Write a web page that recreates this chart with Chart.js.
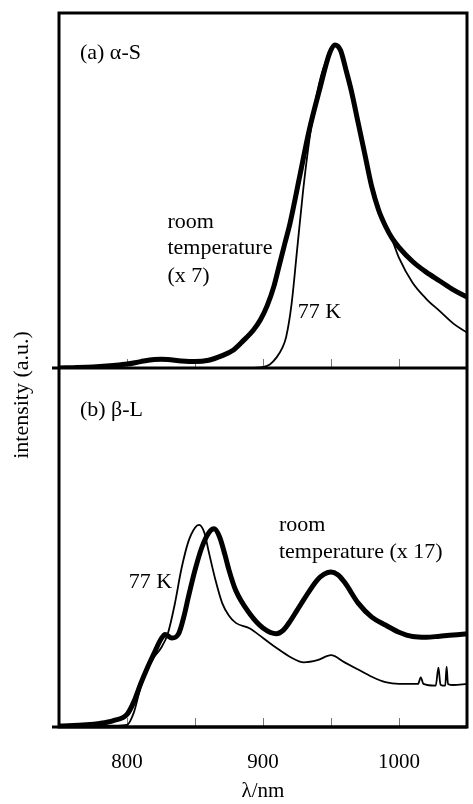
<!DOCTYPE html>
<html>
<head>
<meta charset="utf-8">
<script src="https://cdn.jsdelivr.net/npm/chart.js@4.4.1/dist/chart.umd.min.js"></script>
<style>
  html, body { margin: 0; padding: 0; background: #fff; }
  #wrap { width: 473px; height: 804px; }
</style>
</head>
<body>
<div id="wrap"><canvas id="spectraChart" width="473" height="804"></canvas></div>
<script>
// (a) alpha-S
const wlRoomA = [750, 760, 770, 780, 790, 800, 810, 820, 825, 830, 840, 850, 860, 870, 878, 885, 893, 898, 903, 908,
                 912, 916, 920, 927, 934, 942, 949, 953, 957, 961, 965, 970, 975, 980, 985, 990, 995, 1000, 1010, 1020,
                 1030, 1040, 1050];
const roomA = [0, 0.1, 0.2, 0.4, 0.7, 1.1, 1.8, 2.4, 2.5, 2.4, 2.0, 1.8, 2.2, 3.5, 5, 7.5, 10.7, 13.5, 17.5, 23,
               29, 35, 41, 54, 67, 79, 88.7, 91, 89.5, 84, 78, 69, 60, 51, 44.5, 40, 36.5, 34, 30, 27,
               24.5, 22, 20];
const wlLowA = [750, 800, 850, 890, 900, 905, 910, 914, 917, 921, 925, 929.5, 934, 939, 944, 949, 953, 957, 961, 965,
                970, 975, 980, 985, 990, 995, 1000, 1010, 1020, 1030, 1040, 1050];
const lowA = [0, 0, 0, 0, 0.3, 1, 3, 5.5, 8.7, 18, 33, 50, 64, 76, 84, 88.7, 91, 89.5, 84, 78,
              69, 60, 51, 44.5, 40, 36, 31, 24, 19.5, 16, 12.5, 10];

// (b) beta-L
const wlRoomB = [750, 770, 780, 790, 800, 805, 810, 815, 820, 825, 828, 833, 838, 842, 845, 850, 855, 860, 864, 868,
                 872, 875, 880, 890, 900, 910, 915, 920, 925, 930, 940, 945, 950, 955, 960, 970, 980, 990, 1000, 1010,
                 1020, 1030, 1040, 1050];
const roomB = [0.3, 0.6, 1, 1.8, 3.5, 7, 12, 16.5, 20.6, 24.5, 25.8, 24.8, 26, 31, 36, 43.7, 50, 54, 55.2, 53,
               48, 43.7, 38, 31.7, 27.6, 26, 27, 29.5, 32.5, 35.5, 41, 42.6, 43.2, 42.4, 40.3, 34.5, 30.6, 28.4, 26.4, 25.2,
               25, 25.3, 25.6, 26];
const wlLowB = [750, 770, 790, 800, 805, 810, 815, 820, 825, 830, 835, 840, 845, 850, 853, 857, 860, 865, 870, 875,
                880, 890, 900, 910, 920, 930, 940, 950, 960, 970, 980, 990, 1000, 1010, 1014, 1016, 1018, 1027, 1029, 1030.5,
                1034, 1035, 1036, 1040, 1050];
const lowB = [0.2, 0.3, 0.4, 0.6, 4, 11, 16, 19.5, 22, 26, 34, 44, 51.5, 55.5, 56.3, 54, 49, 41, 34.5, 31,
              29, 27.5, 24.8, 22, 19.5, 18, 18.6, 20, 18, 16, 14, 12.5, 12, 12, 12, 13.8, 12, 11.5, 16.5, 11.8,
              11.5, 16.8, 12, 11.7, 12];

const xTickLabels = [800, 900, 1000];

// text labels placed in data units (nm, intensity) on each panel
const notes = [
  { text: '(a) \u03b1-S', x: 765.4, y: 88.7, axis: 'yA' },
  { text: 'room', x: 829.7, y: 41.1, axis: 'yA' },
  { text: 'temperature', x: 829.7, y: 33.8, axis: 'yA' },
  { text: '(x 7)', x: 829.7, y: 25.9, axis: 'yA' },
  { text: '77 K', x: 925.6, y: 15.8, axis: 'yA' },
  { text: '(b) \u03b2-L', x: 765.4, y: 88.3, axis: 'yB' },
  { text: 'room', x: 911.7, y: 56.3, axis: 'yB' },
  { text: 'temperature (x 17)', x: 911.7, y: 48.7, axis: 'yB' },
  { text: '77 K', x: 801.2, y: 40.4, axis: 'yB' }
];

const serif = '"Liberation Serif", "Times New Roman", serif';

function toPoints(xs, ys) {
  return xs.map((x, i) => ({ x: x, y: ys[i] }));
}

function line(xs, ys, axis, width) {
  return {
    data: toPoints(xs, ys),
    yAxisID: axis,
    borderColor: '#000',
    borderWidth: width,
    pointRadius: 0,
    fill: false,
    cubicInterpolationMode: 'monotone'
  };
}

const framePlugin = {
  id: 'frame',
  beforeDatasetsDraw(chart) {
    const { ctx, chartArea: a, scales } = chart;
    const mid = scales.yB.top;
    ctx.save();
    ctx.strokeStyle = '#777';
    ctx.lineWidth = 1;
    ctx.beginPath();
    scales.x.ticks.forEach(t => {
      if (t.value <= 750 || t.value >= 1050) return;
      const px = Math.round(scales.x.getPixelForValue(t.value)) + 0.5;
      [mid, a.bottom].forEach(y0 => {
        ctx.moveTo(px, y0 - 1);
        ctx.lineTo(px, y0 - 9);
      });
    });
    ctx.stroke();
    ctx.restore();
  },
  afterDatasetsDraw(chart) {
    const { ctx, chartArea: a, scales } = chart;
    const mid = scales.yB.top;
    ctx.save();
    ctx.strokeStyle = '#000';
    ctx.lineWidth = 3;
    ctx.strokeRect(a.left, a.top, a.right - a.left, a.bottom - a.top);
    ctx.beginPath();
    ctx.moveTo(a.left - 7, mid);
    ctx.lineTo(a.right, mid);
    ctx.moveTo(a.left - 7, a.bottom);
    ctx.lineTo(a.right, a.bottom);
    ctx.stroke();

    ctx.fillStyle = '#000';
    ctx.font = '22px ' + serif;
    ctx.textAlign = 'left';
    ctx.textBaseline = 'middle';
    notes.forEach(n => {
      ctx.fillText(n.text, scales.x.getPixelForValue(n.x), scales[n.axis].getPixelForValue(n.y));
    });

    // shared y title for both panels
    ctx.translate(22, 395);
    ctx.rotate(-Math.PI / 2);
    ctx.textAlign = 'center';
    ctx.font = '22px ' + serif;
    ctx.fillText('intensity (a.u.)', 0, 0);
    ctx.restore();
  }
};

document.addEventListener('DOMContentLoaded', function() {
    const ctx = document.getElementById('spectraChart').getContext('2d');

    const hiddenY = (weight) => ({
        type: 'linear',
        min: 0,
        max: 100,
        position: 'left',
        stack: 'panels',
        stackWeight: weight,
        afterFit: s => { s.width = 0; },
        ticks: { display: false },
        grid: { display: false },
        border: { display: false }
    });

    new Chart(ctx, {
        type: 'line',
        data: {
            datasets: [
                line(wlLowA, lowA, 'yA', 1.8),
                line(wlRoomA, roomA, 'yA', 5),
                line(wlLowB, lowB, 'yB', 1.8),
                line(wlRoomB, roomB, 'yB', 5)
            ]
        },
        options: {
            responsive: false,
            animation: false,
            layout: { padding: { left: 59, right: 6, top: 13, bottom: 0 } },
            scales: {
                x: {
                    type: 'linear',
                    min: 750,
                    max: 1050,
                    afterFit: s => {
                        s.height = 77;
                        s.paddingLeft = 0;
                        s.paddingRight = 0;
                    },
                    grid: { display: false, drawTicks: false },
                    border: { display: false },
                    ticks: {
                        stepSize: 50,
                        autoSkip: false,
                        maxRotation: 0,
                        padding: 23,
                        color: '#000',
                        font: { family: serif, size: 21 },
                        callback: v => xTickLabels.includes(v) ? String(v) : ''
                    },
                    title: {
                        display: true,
                        text: '\u03bb/nm',
                        color: '#000',
                        font: { family: serif, size: 21 },
                        padding: { top: 0, bottom: 0 }
                    }
                },
                // first stacked scale ends up at the bottom
                yB: hiddenY(359),
                yA: hiddenY(355)
            },
            plugins: {
                legend: { display: false },
                tooltip: { enabled: false }
            }
        },
        plugins: [framePlugin]
    });
});
</script>
</body>
</html>
